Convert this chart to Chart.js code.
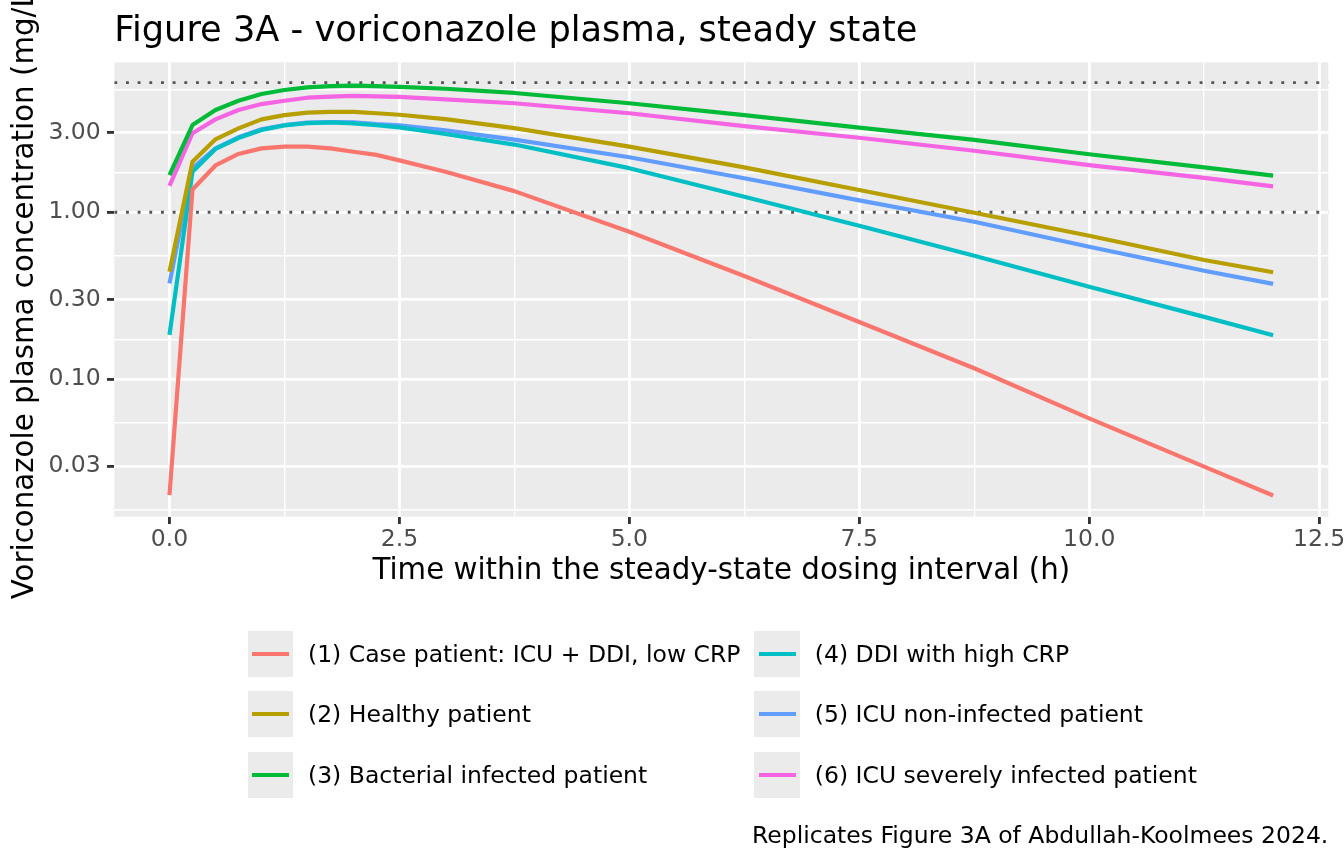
<!DOCTYPE html>
<html>
<head>
<meta charset="utf-8">
<script src="https://cdn.jsdelivr.net/npm/chart.js@4.4.1/dist/chart.umd.min.js"></script>
<style>
html, body { margin: 0; padding: 0; background: #ffffff; }
#wrap { position: relative; width: 1344px; height: 864px; overflow: hidden; font-family: "DejaVu Sans"; background: #fff; }
#c { position: absolute; left: 0; top: 0; width: 1344px; height: 864px; }
.txt { position: absolute; white-space: nowrap; color: #000; font-family: "DejaVu Sans"; }
.key { position: absolute; width: 45.8px; height: 45.8px; background: #EBEBEB; }
.key i { position: absolute; left: 4.6px; right: 4.6px; top: 20.8px; height: 4.2px; display: block; }
</style>
</head>
<body>
<div id="wrap">
  <canvas id="c" width="1344" height="864"></canvas>
  <div id="title" class="txt" style="left:114.3px; top:11.2px; font-size:35.2px; line-height:35.2px;"></div>
  <div id="legend"></div>
  <div id="caption" class="txt" style="right:15.7px; top:824.1px; font-size:23.5px; line-height:23.5px;"></div>
</div>
<script>
// ---------------- data ----------------
const titleText = "Figure 3A - voriconazole plasma, steady state";
const captionText = "Replicates Figure 3A of Abdullah-Koolmees 2024.";
const xTitle = "Time within the steady-state dosing interval (h)";
const yTitle = "Voriconazole plasma concentration (mg/L)";

const times = [0, 0.25, 0.5, 0.75, 1, 1.25, 1.5, 1.75, 2, 2.25, 2.5, 3, 3.75, 5, 6.25, 7.5, 8.75, 10, 11.25, 12];

const seriesNames = [
  "(1) Case patient: ICU + DDI, low CRP",
  "(2) Healthy patient",
  "(3) Bacterial infected patient",
  "(4) DDI with high CRP",
  "(5) ICU non-infected patient",
  "(6) ICU severely infected patient"
];
const seriesColors = ["#F8766D", "#B79F00", "#00BA38", "#00BFC4", "#619CFF", "#F564E3"];

const casePatient    = [0.0201, 1.37, 1.91, 2.24, 2.42, 2.48, 2.48, 2.42, 2.31, 2.21, 2.05, 1.75, 1.34, 0.765, 0.415, 0.220, 0.116, 0.0581, 0.0298, 0.0200];
const healthy        = [0.440, 2.01, 2.74, 3.19, 3.61, 3.83, 3.96, 4.01, 4.00, 3.93, 3.85, 3.62, 3.20, 2.48, 1.86, 1.36, 0.995, 0.724, 0.518, 0.437];
const bacterial      = [1.67, 3.34, 4.11, 4.67, 5.13, 5.42, 5.62, 5.72, 5.75, 5.72, 5.66, 5.51, 5.20, 4.51, 3.83, 3.22, 2.72, 2.23, 1.86, 1.66];
const ddiHighCrp     = [0.184, 1.75, 2.40, 2.79, 3.12, 3.32, 3.43, 3.46, 3.42, 3.33, 3.23, 2.95, 2.55, 1.84, 1.24, 0.831, 0.549, 0.358, 0.236, 0.183];
const icuNonInfected = [0.375, 1.84, 2.42, 2.82, 3.15, 3.34, 3.45, 3.48, 3.47, 3.38, 3.32, 3.10, 2.73, 2.14, 1.60, 1.18, 0.878, 0.622, 0.446, 0.372];
const icuSevere      = [1.44, 2.98, 3.61, 4.11, 4.46, 4.67, 4.87, 4.94, 4.99, 4.96, 4.93, 4.76, 4.51, 3.93, 3.29, 2.80, 2.34, 1.92, 1.61, 1.43];

const seriesValues = [casePatient, healthy, bacterial, ddiHighCrp, icuNonInfected, icuSevere];

const refLines = [1, 6];   // dotted reference lines (mg/L)

const xMajorBreaks = [0, 2.5, 5, 7.5, 10, 12.5];
const xMajorLabels = ["0.0", "2.5", "5.0", "7.5", "10.0", "12.5"];
const xMinorBreaks = [1.25, 3.75, 6.25, 8.75, 11.25];
const xLimits = [-0.6, 12.6];

const yMajorBreaks = [0.03, 0.1, 0.3, 1, 3];
const yMajorLabels = ["0.03", "0.10", "0.30", "1.00", "3.00"];
const yMinorBreaks = [0.0164, 0.0548, 0.173, 0.548, 1.732, 5.477];
const yLimits = [0.01493, 7.943];

// ---------------- chart ----------------
Chart.defaults.font.family = "DejaVu Sans";

const isMajorX = v => xMajorBreaks.some(b => Math.abs(b - v) < 1e-9);
const isMajorY = v => yMajorBreaks.some(b => Math.abs(b - v) < 1e-9);

const panelBg = {
  id: 'panelBg',
  beforeDraw(chart) {
    const { ctx, chartArea: a } = chart;
    ctx.save();
    ctx.fillStyle = '#ffffff';
    ctx.fillRect(0, 0, chart.width, chart.height);
    ctx.fillStyle = '#EBEBEB';
    ctx.fillRect(a.left, a.top, a.right - a.left, a.bottom - a.top);
    ctx.restore();
  }
};

const refLinePlugin = {
  id: 'refLines',
  beforeDatasetsDraw(chart) {
    const { ctx, chartArea: a } = chart;
    const ys = chart.scales.y;
    ctx.save();
    ctx.beginPath();
    ctx.rect(a.left, a.top, a.right - a.left, a.bottom - a.top);
    ctx.clip();
    ctx.strokeStyle = '#555555';
    ctx.lineWidth = 2.9;
    ctx.lineCap = 'butt';
    ctx.setLineDash([2.9, 8.77]);
    refLines.forEach(v => {
      const y = ys.getPixelForValue(v);
      ctx.beginPath();
      ctx.moveTo(a.left, y);
      ctx.lineTo(a.right, y);
      ctx.stroke();
    });
    ctx.restore();
  }
};

const datasets = seriesNames.map((name, i) => ({
  label: name,
  data: times.map((t, j) => ({ x: t, y: seriesValues[i][j] })),
  borderColor: seriesColors[i],
  backgroundColor: seriesColors[i],
  borderWidth: 4.2,
  pointRadius: 0,
  pointHoverRadius: 0,
  tension: 0,
  fill: false,
  borderJoinStyle: 'round',
  borderCapStyle: 'butt'
}));

new Chart(document.getElementById('c'), {
  type: 'line',
  data: { datasets },
  plugins: [panelBg, refLinePlugin],
  options: {
    responsive: false,
    animation: false,
    devicePixelRatio: 1,
    events: [],
    layout: { padding: { left: 0, right: 15.7, top: 62.3, bottom: 267.3 } },
    plugins: {
      legend: { display: false },
      tooltip: { enabled: false },
      title: { display: false }
    },
    scales: {
      x: {
        type: 'linear',
        min: xLimits[0],
        max: xLimits[1],
        afterBuildTicks: (axis) => {
          axis.ticks = xMajorBreaks.concat(xMinorBreaks).sort((a, b) => a - b).map(v => ({ value: v }));
        },
        afterFit: (axis) => {
          axis.height = 80;
          axis.paddingLeft = 0; axis.paddingRight = 0;
        },
        border: { display: false },
        grid: {
          color: '#FFFFFF',
          lineWidth: (c) => (c.tick && isMajorX(c.tick.value)) ? 2.85 : 1.42,
          drawTicks: true,
          tickLength: 7.3,
          tickColor: (c) => (c.tick && isMajorX(c.tick.value)) ? '#333333' : 'rgba(0,0,0,0)',
          tickWidth: 2.85
        },
        ticks: {
          autoSkip: false,
          maxRotation: 0,
          minRotation: 0,
          padding: 1.6,
          color: '#4D4D4D',
          font: { size: 23.5, family: 'DejaVu Sans' },
          callback: (v) => {
            const k = xMajorBreaks.findIndex(b => Math.abs(b - v) < 1e-9);
            return k >= 0 ? xMajorLabels[k] : '';
          }
        },
        title: {
          display: true,
          text: xTitle,
          color: '#000000',
          font: { size: 29.3, family: 'DejaVu Sans' },
          padding: { top: 0, bottom: 7.6 }
        }
      },
      y: {
        type: 'logarithmic',
        min: yLimits[0],
        max: yLimits[1],
        afterBuildTicks: (axis) => {
          axis.ticks = yMajorBreaks.concat(yMinorBreaks).sort((a, b) => a - b).map(v => ({ value: v }));
        },
        afterFit: (axis) => {
          axis.width = 114.3;
          axis.paddingTop = 0; axis.paddingBottom = 0;
        },
        border: { display: false },
        grid: {
          color: '#FFFFFF',
          lineWidth: (c) => (c.tick && isMajorY(c.tick.value)) ? 2.85 : 1.42,
          drawTicks: true,
          tickLength: 7.3,
          tickColor: (c) => (c.tick && isMajorY(c.tick.value)) ? '#333333' : 'rgba(0,0,0,0)',
          tickWidth: 2.85
        },
        ticks: {
          autoSkip: false,
          padding: 6.3,
          color: '#4D4D4D',
          font: { size: 23.5, family: 'DejaVu Sans' },
          callback: (v) => {
            const k = yMajorBreaks.findIndex(b => Math.abs(b - v) < 1e-9);
            return k >= 0 ? yMajorLabels[k] : '';
          }
        },
        title: {
          display: true,
          text: yTitle,
          color: '#000000',
          font: { size: 29.3, family: 'DejaVu Sans' },
          padding: { top: 7.6, bottom: 0 }
        }
      }
    }
  }
});

// ---------------- HTML texts: title, legend, caption ----------------
document.getElementById('title').textContent = titleText;
document.getElementById('caption').textContent = captionText;

const legendColLeft = [247.5, 754.3];
const legendRowTop = [631, 691.3, 752];
const legendEl = document.getElementById('legend');
seriesNames.forEach((name, i) => {
  const col = Math.floor(i / 3), row = i % 3;
  const kx = legendColLeft[col], ky = legendRowTop[row];
  const key = document.createElement('div');
  key.className = 'key';
  key.style.left = kx + 'px';
  key.style.top = ky + 'px';
  const seg = document.createElement('i');
  seg.style.background = seriesColors[i];
  key.appendChild(seg);
  legendEl.appendChild(key);
  const lab = document.createElement('div');
  lab.className = 'txt';
  lab.style.left = (kx + 45.8 + 14.7) + 'px';
  lab.style.top = (ky + 11.6) + 'px';
  lab.style.fontSize = '23.5px';
  lab.style.lineHeight = '23.5px';
  lab.textContent = name;
  legendEl.appendChild(lab);
});
</script>
</body>
</html>
